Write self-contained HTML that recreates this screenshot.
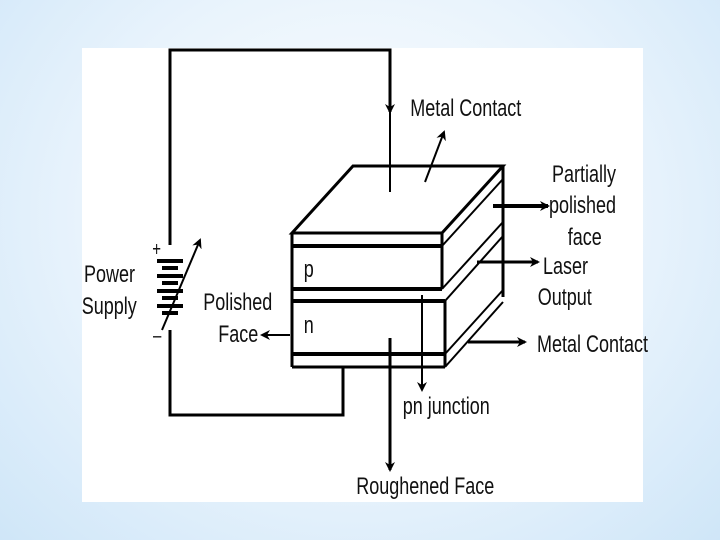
<!DOCTYPE html>
<html><head><style>
html,body{margin:0;padding:0;width:720px;height:540px;overflow:hidden}
body{background:radial-gradient(ellipse at 50% 40%,#ffffff 0%,#e8f3fc 55%,#cfe6f8 100%)}
svg{position:absolute;left:0;top:0}
text{font-family:"Liberation Sans",sans-serif;font-size:24px;fill:#111}
</style></head><body>
<svg width="720" height="540" viewBox="0 0 720 540">
<defs><marker id="a" markerWidth="10" markerHeight="10" refX="8" refY="5" orient="auto" markerUnits="userSpaceOnUse"><path d="M0,0 L10,5 L0,10 L3,5 Z" fill="#000"/></marker></defs>
<rect x="82" y="48" width="561" height="454" fill="#fff"/>
<g stroke="#000" fill="none" stroke-width="3">
<polyline points="170,245 170,50 390,50 390,112" marker-end="url(#a)"/>
<line x1="390" y1="112" x2="390" y2="192" stroke-width="2"/>
<polyline points="170,330 170,415 343,415 343,367"/>
<line x1="170" y1="258" x2="170" y2="318" stroke="#fff" stroke-width="6"/>
<g stroke-width="4">
<line x1="157" y1="261" x2="183" y2="261"/><line x1="162" y1="268" x2="178" y2="268"/>
<line x1="157" y1="276" x2="183" y2="276"/><line x1="162" y1="283" x2="178" y2="283"/>
<line x1="157" y1="291" x2="183" y2="291"/><line x1="162" y1="298" x2="178" y2="298"/>
<line x1="157" y1="306" x2="183" y2="306"/><line x1="162" y1="313" x2="178" y2="313"/>
</g>
<line x1="162" y1="330" x2="200" y2="240" stroke-width="2" marker-end="url(#a)"/>
<polygon points="292,233 353,166 503,166 442,233" stroke-width="3"/>
<line x1="292" y1="233" x2="292" y2="367"/>
<line x1="442" y1="233" x2="442" y2="289"/>
<line x1="445" y1="301" x2="445" y2="367"/>
<line x1="292" y1="246" x2="442" y2="246" stroke-width="4"/>
<line x1="292" y1="289" x2="442" y2="289" stroke-width="4"/>
<line x1="292" y1="301" x2="445" y2="301" stroke-width="4"/>
<line x1="292" y1="354" x2="445" y2="354" stroke-width="4"/>
<line x1="292" y1="367" x2="445" y2="367"/>
<line x1="503" y1="166" x2="503" y2="297"/>
<line x1="442" y1="246" x2="503" y2="179" stroke-width="2"/>
<line x1="442" y1="289" x2="503" y2="222" stroke-width="2"/>
<line x1="445" y1="301" x2="503" y2="236" stroke-width="2"/>
<line x1="445" y1="354" x2="503" y2="290" stroke-width="2"/>
<line x1="445" y1="367" x2="503" y2="302" stroke-width="2"/>
<line x1="425" y1="182" x2="444" y2="132" stroke-width="2" marker-end="url(#a)"/>
<line x1="493" y1="206" x2="548" y2="206" stroke-width="4" marker-end="url(#a)"/>
<line x1="477" y1="262" x2="538" y2="262" stroke-width="3" marker-end="url(#a)"/>
<line x1="468" y1="342" x2="525" y2="342" stroke-width="3" marker-end="url(#a)"/>
<line x1="422" y1="295" x2="422" y2="390" stroke-width="2" marker-end="url(#a)"/>
<line x1="390" y1="338" x2="390" y2="470" stroke-width="3" marker-end="url(#a)"/>
<line x1="290" y1="335" x2="262" y2="335" stroke-width="2" marker-end="url(#a)"/>
</g>
<g transform="scale(0.75,1)">
<text x="547" y="116">Metal Contact</text>
<text x="736" y="182">Partially</text>
<text x="732" y="213">polished</text>
<text x="757" y="245">face</text>
<text x="724" y="274">Laser</text>
<text x="717" y="305">Output</text>
<text x="716" y="352">Metal Contact</text>
<text x="112" y="282">Power</text>
<text x="109" y="314">Supply</text>
<text x="271" y="310">Polished</text>
<text x="291" y="342">Face</text>
<text x="405" y="277">p</text>
<text x="405" y="333">n</text>
<text x="537" y="414">pn junction</text>
<text x="475" y="494">Roughened Face</text>
<text x="203" y="256" style="font-size:20px">+</text>
<text x="204" y="342" style="font-size:20px">–</text>
</g>
</svg>
</body></html>
